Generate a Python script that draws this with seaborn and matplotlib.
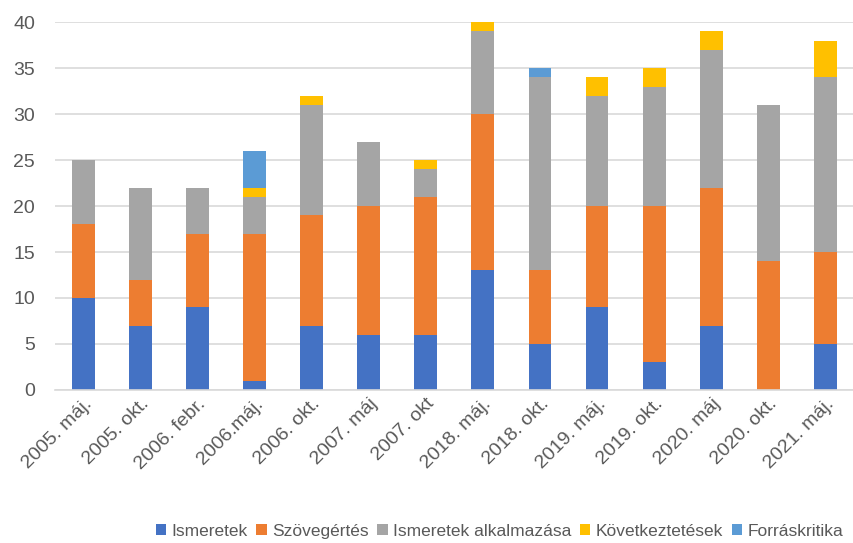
import numpy as np
import pandas as pd
import seaborn as sns
import matplotlib.pyplot as plt

# Categories and series values
categories = ["2005. máj.", "2005. okt.", "2006. febr.", "2006.máj.", "2006. okt.",
              "2007. máj", "2007. okt", "2018. máj.", "2018. okt.", "2019. máj.",
              "2019. okt.", "2020. máj", "2020. okt.", "2021. máj."]
ismeretek = [10, 7, 9, 1, 7, 6, 6, 13, 5, 9, 3, 7, 0, 5]
szovegertes = [8, 5, 8, 16, 12, 14, 15, 17, 8, 11, 17, 15, 14, 10]
alkalmazas = [7, 10, 5, 4, 12, 7, 3, 9, 21, 12, 13, 15, 17, 19]
kovetkeztetes = [0, 0, 0, 1, 1, 0, 1, 1, 0, 2, 2, 2, 0, 4]
forraskritika = [0, 0, 0, 4, 0, 0, 0, 0, 1, 0, 0, 0, 0, 0]

series_names = ["Ismeretek", "Szövegértés", "Ismeretek alkalmazása",
                "Következtetések", "Forráskritika"]
series_vals = [ismeretek, szovegertes, alkalmazas, kovetkeztetes, forraskritika]
colors = ["#4472C4", "#ED7D31", "#A5A5A5", "#FFC000", "#5B9BD5"]

sns.set_theme(style="white")
plt.rcParams['font.family'] = ['Liberation Sans', 'DejaVu Sans']

fig = plt.figure(figsize=(8.54, 5.43), dpi=100)
ax = fig.add_axes([0.064, 0.282, 0.936, 0.677])

bottom = np.zeros(len(categories))
for name, vals, col in zip(series_names, series_vals, colors):
    df = pd.DataFrame({"cat": categories, "val": vals})
    sns.barplot(data=df, x="cat", y="val", bottom=bottom, color=col, width=0.4,
                linewidth=0, saturation=1, label=name, ax=ax)
    bottom = bottom + np.array(vals)

ax.set_ylim(0, 40)
ax.set_yticks(range(0, 41, 5))
ax.set_xlim(-0.5, len(categories) - 0.5)
ax.yaxis.grid(True, color="#D9D9D9", linewidth=1.2)
ax.set_axisbelow(True)
for s in ["top", "right", "left"]:
    ax.spines[s].set_visible(False)
ax.spines["bottom"].set_color("#D9D9D9")
ax.spines["bottom"].set_linewidth(1.2)
ax.set_xlabel("")
ax.set_ylabel("")
ax.tick_params(axis="both", length=0, colors="#595959", labelsize=14)
ax.tick_params(axis="y", pad=14)
ax.tick_params(axis="x", pad=4)
plt.setp(ax.get_xticklabels(), rotation=45, ha="right", rotation_mode="anchor")

ax.legend(loc="center right", bbox_to_anchor=(0.995, -0.385), ncol=5, frameon=False,
          handlelength=0.6, handleheight=0.6, handletextpad=0.3, columnspacing=0.5,
          fontsize=12.5, labelcolor="#595959", borderaxespad=0)

fig.savefig("out.png", dpi=100)
